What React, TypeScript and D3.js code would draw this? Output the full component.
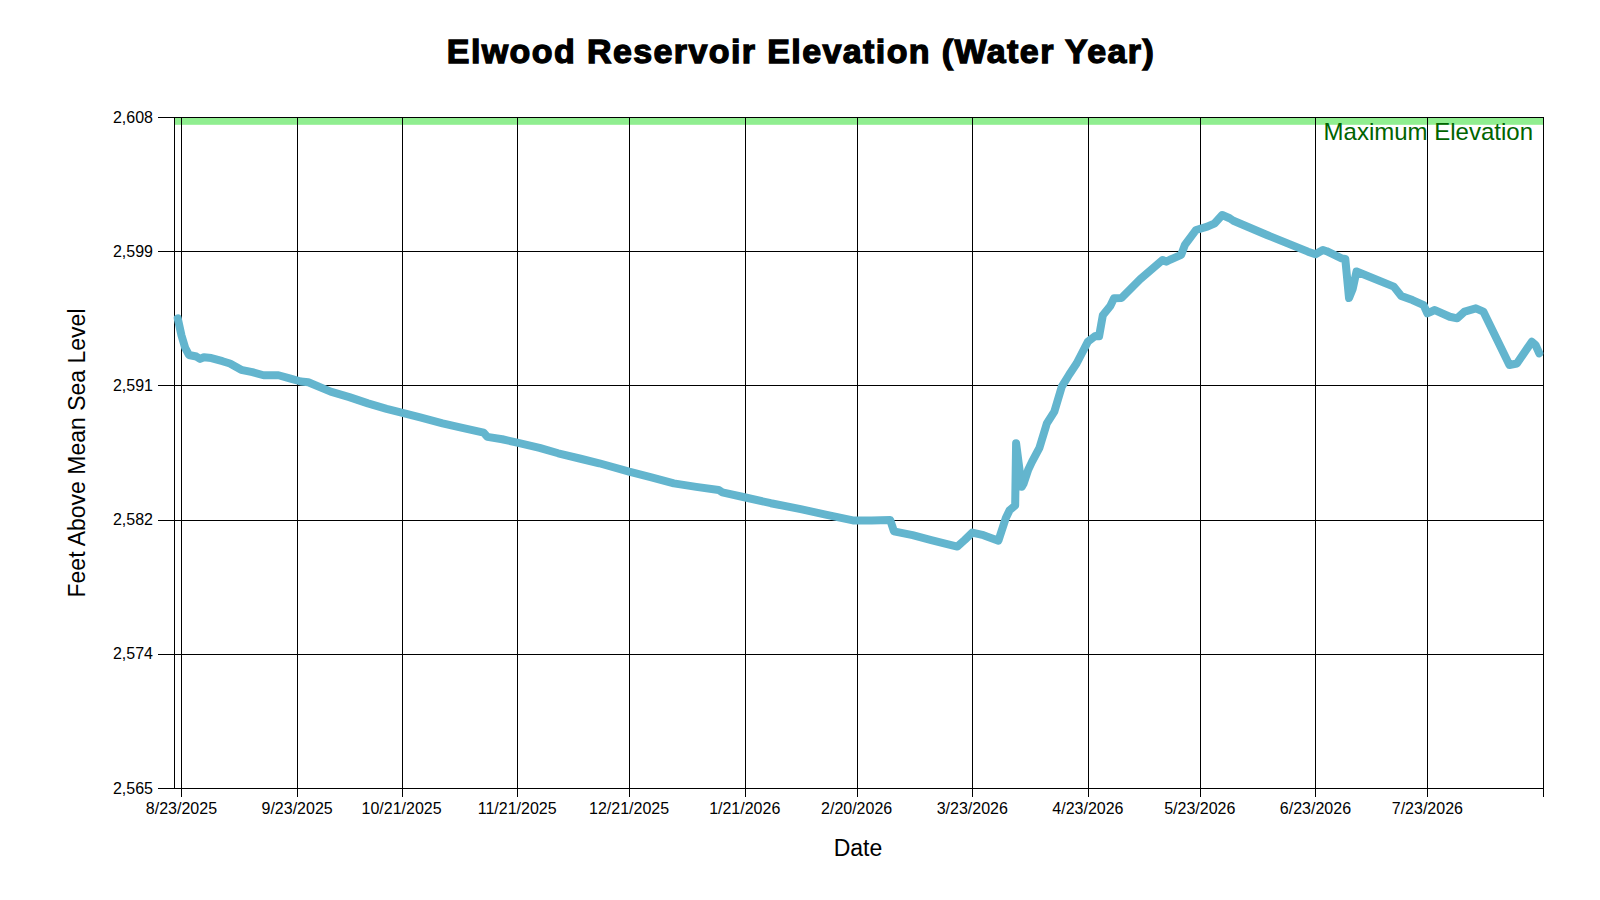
import React from "react";
import * as d3 from "d3";

// ---- Data ----
const dates: string[] = [
  "2025-08-22", "2025-08-23", "2025-08-24", "2025-08-25", "2025-08-27", "2025-08-28", "2025-08-29", "2025-08-31",
  "2025-09-03", "2025-09-05", "2025-09-08", "2025-09-11", "2025-09-14", "2025-09-18", "2025-09-21", "2025-09-24",
  "2025-09-26", "2025-10-02", "2025-10-07", "2025-10-12", "2025-10-17", "2025-10-21", "2025-10-26", "2025-11-01",
  "2025-11-06", "2025-11-12", "2025-11-13", "2025-11-17", "2025-11-21", "2025-11-27", "2025-12-02", "2025-12-08",
  "2025-12-13", "2025-12-21", "2025-12-27", "2026-01-02", "2026-01-08", "2026-01-14", "2026-01-15", "2026-01-20",
  "2026-01-28", "2026-02-05", "2026-02-12", "2026-02-19", "2026-02-24", "2026-03-01", "2026-03-02", "2026-03-07",
  "2026-03-12", "2026-03-16", "2026-03-19", "2026-03-21", "2026-03-23", "2026-03-26", "2026-03-30", "2026-04-01",
  "2026-04-02", "2026-04-03T12", "2026-04-03T18", "2026-04-05T06", "2026-04-05T18", "2026-04-07", "2026-04-08", "2026-04-10",
  "2026-04-12", "2026-04-14", "2026-04-16", "2026-04-18", "2026-04-20", "2026-04-23", "2026-04-25", "2026-04-26",
  "2026-04-27", "2026-04-29", "2026-04-30", "2026-05-02", "2026-05-07", "2026-05-13", "2026-05-14", "2026-05-15",
  "2026-05-18", "2026-05-19", "2026-05-22", "2026-05-25", "2026-05-27", "2026-05-29", "2026-05-31", "2026-06-01",
  "2026-06-10", "2026-06-21", "2026-06-23", "2026-06-25", "2026-06-26", "2026-06-30", "2026-07-01", "2026-07-02",
  "2026-07-03", "2026-07-04", "2026-07-05", "2026-07-14", "2026-07-16", "2026-07-19", "2026-07-22", "2026-07-23",
  "2026-07-25", "2026-07-29", "2026-07-31", "2026-08-02", "2026-08-05", "2026-08-07", "2026-08-14", "2026-08-16",
  "2026-08-20", "2026-08-21", "2026-08-22",
];
const elevations: number[] = [
  2595.1, 2594.0, 2593.2, 2592.75, 2592.65, 2592.5, 2592.6, 2592.55,
  2592.35, 2592.2, 2591.8, 2591.65, 2591.45, 2591.45, 2591.25, 2591.05,
  2591.0, 2590.4, 2590.05, 2589.65, 2589.3, 2589.05, 2588.75, 2588.37,
  2588.1, 2587.77, 2587.5, 2587.35, 2587.13, 2586.8, 2586.45, 2586.1,
  2585.81, 2585.27, 2584.9, 2584.52, 2584.3, 2584.1, 2583.95, 2583.68,
  2583.25, 2582.87, 2582.5, 2582.15, 2582.15, 2582.18, 2581.45, 2581.2,
  2580.89, 2580.65, 2580.47, 2580.9, 2581.37, 2581.2, 2580.85, 2582.3,
  2582.8, 2583.1, 2587.1, 2584.3, 2584.5, 2585.4, 2585.9, 2586.8,
  2588.37, 2589.12, 2590.72, 2591.5, 2592.22, 2593.6, 2593.97, 2593.95,
  2595.3, 2595.89, 2596.38, 2596.4, 2597.6, 2598.84, 2598.73, 2598.85,
  2599.16, 2599.8, 2600.76, 2600.97, 2601.19, 2601.72, 2601.51, 2601.35,
  2600.44, 2599.37, 2599.2, 2599.48, 2599.4, 2598.94, 2598.9, 2596.4,
  2597.0, 2598.1, 2598.0, 2597.13, 2596.53, 2596.27, 2595.95, 2595.42,
  2595.63, 2595.2, 2595.1, 2595.53, 2595.74, 2595.53, 2592.11, 2592.2,
  2593.6, 2593.39, 2592.86,
];

const xTickDates: string[] = [
  "2025-08-23", "2025-09-23", "2025-10-21", "2025-11-21", "2025-12-21", "2026-01-21",
  "2026-02-20", "2026-03-23", "2026-04-23", "2026-05-23", "2026-06-23", "2026-07-23",
];
const xDomain: string[] = ["2025-08-21", "2026-08-23"];
const yTickValues: number[] = [2565, 2573.6, 2582.2, 2590.8, 2599.4, 2608];
const yDomain: number[] = [2565, 2608];
const maxElevation = 2608;
const maxBandBottom = 2607.5;

const titleText = "Elwood Reservoir Elevation (Water Year)";
const xTitle = "Date";
const yTitle = "Feet Above Mean Sea Level";
const maxLabel = "Maximum Elevation";

// ---- Layout ----
const W = 1600;
const H = 900;
const L = 174;
const R = 1543;
const T = 117;
const B = 788;
const FONT = "'Liberation Sans', Arial, Helvetica, sans-serif";

const parseHour = d3.timeParse("%Y-%m-%dT%H");
const parseDay = d3.timeParse("%Y-%m-%d");
const parse = (s: string): Date => (parseHour(s) ?? parseDay(s)) as Date;

export default function App() {
  const x = d3.scaleTime().domain(xDomain.map(parse)).range([L, R]);
  const y = d3.scaleLinear().domain(yDomain).range([B, T]);

  const pts = dates.map((d, i) => ({ date: parse(d), value: elevations[i] }));
  const line = d3
    .line<{ date: Date; value: number }>()
    .x((d) => x(d.date))
    .y((d) => y(d.value))
    .curve(d3.curveLinear);

  const yFmt = d3.format(",.0f");
  const xFmt = d3.timeFormat("%-m/%-d/%Y");

  return (
    <svg
      width={W}
      height={H}
      style={{ position: "absolute", left: 0, top: 0, background: "#fff" }}
      fontFamily={FONT}
    >
      <rect x={0} y={0} width={W} height={H} fill="#fff" />
      <text
        x={801}
        y={63}
        textAnchor="middle"
        fontSize={34}
        fontWeight="bold"
        fill="#000"
        stroke="#000"
        strokeWidth={1.3}
        letterSpacing={1.4}
      >
        {titleText}
      </text>

      {/* maximum elevation band */}
      <rect
        x={L}
        y={y(maxElevation)}
        width={R - L}
        height={y(maxBandBottom) - y(maxElevation)}
        fill="#90ee90"
      />

      {/* horizontal grid + y ticks */}
      {yTickValues.map((v) => (
        <g key={"y" + v}>
          <line x1={158} x2={R} y1={Math.round(y(v)) + 0.5} y2={Math.round(y(v)) + 0.5} stroke="#000" strokeWidth={1} />
          <text x={153} y={y(v)} dy="0.35em" textAnchor="end" fontSize={16} fill="#000">
            {yFmt(v)}
          </text>
        </g>
      ))}

      {/* vertical grid + x ticks */}
      {xTickDates.map((s) => {
        const xv = Math.round(x(parse(s))) + 0.5;
        return (
          <g key={"x" + s}>
            <line x1={xv} x2={xv} y1={T} y2={B + 9} stroke="#000" strokeWidth={1} />
            <text x={x(parse(s))} y={814} textAnchor="middle" fontSize={16} fill="#000">
              {xFmt(parse(s))}
            </text>
          </g>
        );
      })}

      {/* frame */}
      <line x1={L + 0.5} x2={L + 0.5} y1={T} y2={B} stroke="#000" strokeWidth={1} />
      <line x1={R + 0.5} x2={R + 0.5} y1={T} y2={B + 9} stroke="#000" strokeWidth={1} />

      {/* data line */}
      <path
        d={line(pts) ?? ""}
        fill="none"
        stroke="#63b5ce"
        strokeWidth={8}
        strokeLinejoin="round"
        strokeLinecap="round"
      />

      <text x={1533} y={140} textAnchor="end" fontSize={24} fill="#006400">
        {maxLabel}
      </text>

      <text x={858} y={856} textAnchor="middle" fontSize={23} fill="#000">
        {xTitle}
      </text>
      <text
        transform={`translate(85, 453) rotate(-90)`}
        textAnchor="middle"
        fontSize={23}
        fill="#000"
      >
        {yTitle}
      </text>
    </svg>
  );
}
